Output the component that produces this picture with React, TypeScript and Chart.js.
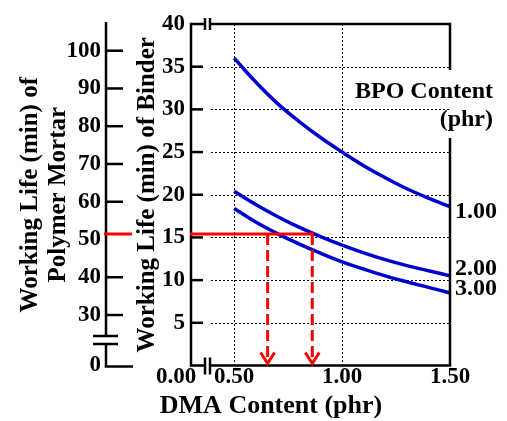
import React, { useEffect, useRef } from 'react';
import { Chart, registerables } from 'chart.js';

Chart.register(...registerables);

// ---- data ----
const DMA = [0.5, 0.6, 0.7, 0.8, 0.9, 1.0, 1.1, 1.2, 1.3, 1.4, 1.5];
const BPO_100 = [36.0, 33.2, 30.7, 28.6, 26.7, 25.0, 23.4, 22.0, 20.7, 19.6, 18.6];
const BPO_200 = [20.4, 18.85, 17.45, 16.2, 15.1, 14.1, 13.2, 12.4, 11.7, 11.1, 10.5];
const BPO_300 = [18.4, 16.8, 15.45, 14.25, 13.15, 12.15, 11.3, 10.5, 9.8, 9.15, 8.5];
const SERIES_LABELS = ['1.00', '2.00', '3.00'];
const SERIES_LABEL_Y = [18.0, 11.3, 8.95];
const LEGEND_TITLE = ['BPO Content', '(phr)'];

const X_MIN = 0.3;
const X_MAX = 1.5;
const X_TICKS = [0.5, 1.0, 1.5];
const X_TICK_LABELS = ['0.50', '1.00', '1.50'];
const X_BREAK_LABEL = '0.00';
const X_GRID = [0.5, 1.0];
const X_TITLE = 'DMA Content (phr)';

const Y_MIN = 0;
const Y_MAX = 40;
const Y_TICKS = [5, 10, 15, 20, 25, 30, 35, 40];
const Y_GRID = [5, 10, 15, 20, 25, 30, 35];
const Y_TITLE = 'Working Life (min) of Binder';

const Y2_MIN = 16.63;
const Y2_MAX = 107.07;
const Y2_TICKS = [30, 40, 50, 60, 70, 80, 90, 100];
const Y2_TICK_MARKS = [30, 40, 60, 70, 80, 90, 100];
const Y2_BREAK_LABEL = '0';
const Y2_TITLE = ['Working Life (min) of', 'Polymer Mortar'];

const RED_LEVEL = 15.4;
const RED_DMA = [0.655, 0.862];

const FONT = "'Liberation Serif', 'Times New Roman', serif";
const BLUE = '#0000cc';
const RED = '#ff0000';

function seg(ctx: CanvasRenderingContext2D, x1: number, y1: number, x2: number, y2: number) {
  ctx.beginPath();
  ctx.moveTo(x1, y1);
  ctx.lineTo(x2, y2);
  ctx.stroke();
}

const deco = {
  id: 'deco',
  beforeDatasetsDraw(chart: any) {
    const { ctx, chartArea, scales } = chart;
    const { left, right, top, bottom } = chartArea;
    const xs = scales.x;
    const ys = scales.y;
    ctx.save();
    ctx.strokeStyle = '#000';
    ctx.lineWidth = 1;
    ctx.setLineDash([2, 2]);
    const gx0 = left + 20;
    Y_GRID.forEach((v) => {
      const py = Math.round(ys.getPixelForValue(v)) + 0.5;
      seg(ctx, gx0, py, right, py);
    });
    X_GRID.forEach((v) => {
      const px = Math.round(xs.getPixelForValue(v)) + 0.5;
      seg(ctx, px, top, px, bottom);
    });
    ctx.restore();
  },
  afterDatasetsDraw(chart: any) {
    const { ctx, chartArea, scales } = chart;
    const { left, right, top, bottom } = chartArea;
    const xs = scales.x;
    const ys = scales.y;
    const y2 = scales.y2;
    ctx.save();
    ctx.strokeStyle = '#000';
    ctx.lineWidth = 2.5;
    ctx.lineCap = 'butt';
    ctx.setLineDash([]);

    // main frame with breaks
    const b1 = left + 14;
    const b2 = left + 19;
    seg(ctx, left, top - 1.25, left, bottom + 1.25);
    seg(ctx, left, top, b1, top);
    seg(ctx, b2, top, right, top);
    seg(ctx, b1, top - 6, b1, top + 6);
    seg(ctx, b2, top - 6, b2, top + 6);
    seg(ctx, left, bottom, b1, bottom);
    seg(ctx, b2, bottom, right + 1.25, bottom);
    seg(ctx, b1, bottom - 8, b1, bottom + 9);
    seg(ctx, b2, bottom - 8, b2, bottom + 9);
    // right border with gap for legend title
    seg(ctx, right, top - 1.25, right, top + 46);
    seg(ctx, right, top + 114, right, bottom);

    // main y ticks (inside)
    Y_GRID.forEach((v) => {
      const py = ys.getPixelForValue(v);
      seg(ctx, left, py, left + 12, py);
    });

    // secondary axis
    const ax = y2.right;
    const brk1 = bottom - 29.5;
    const brk2 = bottom - 21.5;
    seg(ctx, ax, top - 2, ax, brk1);
    seg(ctx, ax, brk2, ax, bottom + 1.25);
    seg(ctx, ax - 1.25, bottom + 1, ax + 27, bottom + 1);
    seg(ctx, ax - 13, brk1, ax + 12, brk1);
    seg(ctx, ax - 13, brk2, ax + 12, brk2);
    Y2_TICK_MARKS.forEach((v) => {
      const py = y2.getPixelForValue(v);
      seg(ctx, ax, py, ax + 17, py);
    });

    // red guide lines
    ctx.strokeStyle = RED;
    ctx.lineWidth = 3;
    const ry = ys.getPixelForValue(RED_LEVEL);
    const xb = xs.getPixelForValue(RED_DMA[1]);
    seg(ctx, ax - 2, ry, ax + 26, ry);
    seg(ctx, left - 1, ry, xb + 1.5, ry);
    RED_DMA.forEach((d) => {
      const px = xs.getPixelForValue(d);
      ctx.setLineDash([11, 5]);
      seg(ctx, px, ry, px, bottom - 4);
      ctx.setLineDash([]);
      ctx.beginPath();
      ctx.moveTo(px - 7, bottom - 13);
      ctx.lineTo(px, bottom - 2);
      ctx.lineTo(px + 7, bottom - 13);
      ctx.stroke();
    });

    // text
    ctx.fillStyle = '#000';
    ctx.textBaseline = 'middle';
    ctx.font = `bold 24px ${FONT}`;
    ctx.textAlign = 'right';
    ctx.fillText(LEGEND_TITLE[0], right + 43, top + 68);
    ctx.fillText(LEGEND_TITLE[1], right + 43, top + 96);
    ctx.textAlign = 'left';
    SERIES_LABELS.forEach((t, i) => {
      ctx.fillText(t, right + 5, ys.getPixelForValue(SERIES_LABEL_Y[i]));
    });
    ctx.font = `bold 23px ${FONT}`;
    ctx.textAlign = 'center';
    ctx.fillText(X_BREAK_LABEL, left - 15, bottom + 12);
    ctx.font = `bold 26px ${FONT}`;
    ctx.fillText(X_TITLE, left + 80, bottom + 41);
    ctx.restore();
  },
};

export default function App() {
  const ref = useRef<HTMLCanvasElement | null>(null);
  useEffect(() => {
    if (!ref.current) return;
    const mk = (vals: number[]) => DMA.map((x, i) => ({ x, y: vals[i] }));
    const ds = (vals: number[], label: string) => ({
      label,
      data: mk(vals),
      borderColor: BLUE,
      borderWidth: 3.5,
      pointRadius: 0,
      fill: false,
      tension: 0.4,
      yAxisID: 'y',
      xAxisID: 'x',
    });
    const noGrid = { display: false, drawTicks: false };
    const chart = new Chart(ref.current, {
      type: 'line',
      data: {
        datasets: [
          ds(BPO_100, SERIES_LABELS[0]),
          ds(BPO_200, SERIES_LABELS[1]),
          ds(BPO_300, SERIES_LABELS[2]),
        ],
      },
      options: {
        animation: false,
        responsive: false,
        devicePixelRatio: 1,
        layout: { padding: { top: 24, right: 57, left: 0, bottom: 0 } },
        plugins: { legend: { display: false }, tooltip: { enabled: false } },
        scales: {
          x: {
            type: 'linear',
            min: X_MIN,
            max: X_MAX,
            grid: noGrid,
            border: { display: false },
            afterBuildTicks: (s: any) => {
              s.ticks = X_TICKS.map((v) => ({ value: v }));
            },
            afterFit: (s: any) => {
              s.height = 55.5;
            },
            ticks: {
              padding: 0,
              color: '#000',
              font: { family: FONT, size: 23, weight: 'bold', lineHeight: 1 },
              maxRotation: 0,
              autoSkip: false,
              callback: (v: any) => {
                const i = X_TICKS.findIndex((t) => Math.abs(t - Number(v)) < 1e-6);
                return i >= 0 ? X_TICK_LABELS[i] : '';
              },
            },
          },
          y: {
            type: 'linear',
            position: 'left',
            weight: 0,
            min: Y_MIN,
            max: Y_MAX,
            grid: noGrid,
            border: { display: false },
            afterBuildTicks: (s: any) => {
              s.ticks = Y_TICKS.map((v) => ({ value: v }));
            },
            afterFit: (s: any) => {
              s.width = 85;
            },
            ticks: {
              padding: 6,
              color: '#000',
              font: { family: FONT, size: 23, weight: 'bold' },
              callback: (v: any) => String(v),
            },
            title: {
              display: true,
              text: Y_TITLE,
              color: '#000',
              font: { family: FONT, size: 25, weight: 'bold', lineHeight: 1.2 },
              padding: { top: 27, bottom: 0 },
            },
          },
          y2: {
            type: 'linear',
            position: 'left',
            weight: 1,
            min: Y2_MIN,
            max: Y2_MAX,
            grid: noGrid,
            border: { display: false },
            afterBuildTicks: (s: any) => {
              s.ticks = [{ value: Y2_MIN }, ...Y2_TICKS.map((v) => ({ value: v }))];
            },
            afterFit: (s: any) => {
              s.width = 106;
            },
            ticks: {
              padding: 5,
              color: '#000',
              font: { family: FONT, size: 23, weight: 'bold' },
              callback: (v: any) => (Math.abs(Number(v) - Y2_MIN) < 1e-6 ? Y2_BREAK_LABEL : String(v)),
            },
            title: {
              display: true,
              text: Y2_TITLE,
              color: '#000',
              font: { family: FONT, size: 25, weight: 'bold', lineHeight: 1.1 },
              padding: { top: 17, bottom: 0 },
            },
          },
        },
      },
      plugins: [deco],
    } as any);
    return () => chart.destroy();
  }, []);
  return (
    <div style={{ position: 'absolute', left: 0, top: 0, width: 507, height: 421, background: '#fff' }}>
      <canvas ref={ref} width={507} height={421} style={{ display: 'block' }} />
    </div>
  );
}
